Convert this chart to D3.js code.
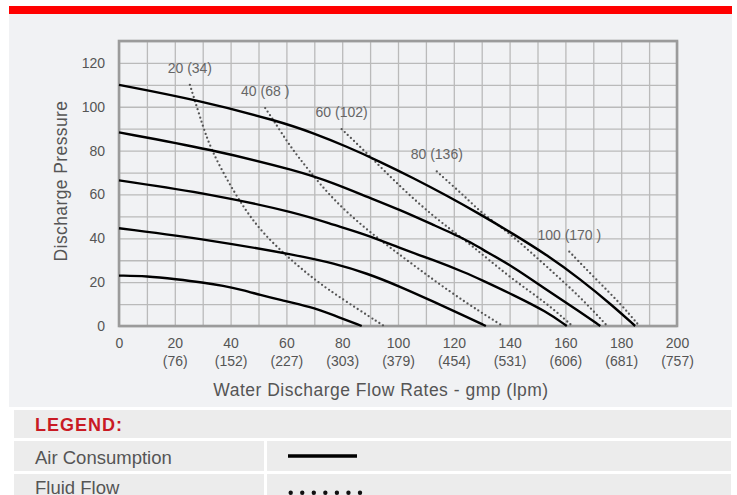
<!DOCTYPE html>
<meta charset="utf-8">
<style>
body { margin: 0; background: #fff; }
svg text { font-family: "Liberation Sans", Arial, sans-serif; }
.grid line { stroke: #bababa; stroke-width: 1.3px; }
.grid path { display: none; }
.axis path, .axis line { display: none; }
.axis text { fill: #555; font-size: 14px; }
.air { fill: none; stroke: #000; stroke-width: 2.4px; }
.fluid { fill: none; stroke: #555; stroke-width: 2.3px; stroke-dasharray: 0 4.3; stroke-linecap: round; }
.flabel { fill: #666; font-size: 14px; text-anchor: middle; }
</style>
<svg width="737" height="495"></svg>
<script src="https://d3js.org/d3.v7.min.js"></script>
<script>

// tick labels
var gpmTicks = [0, 20, 40, 60, 80, 100, 120, 140, 160, 180, 200];
var lpmTicks = ["", "(76)", "(152)", "(227)", "(303)", "(379)", "(454)", "(531)", "(606)", "(681)", "(757)"];
var psiTicks = [0, 20, 40, 60, 80, 100, 120];

// air consumption curves  [gpm, pressure]
var air110 = [[0,110],[27.8,103.2],[57.7,93.3],[69.6,88],[81.6,81.9],[93.5,75],[105.5,67.5],[117.5,59.5],[129.4,51],[141.3,42],[153.3,32.5],[165.2,21.5],[177.2,9],[185,0]];
var air88  = [[0,88.3],[32.6,80.7],[64.9,70.5],[76.8,65.2],[88.8,59],[100.7,53],[112.7,46.1],[124.6,39.3],[129.4,35.5],[141.3,27.1],[153.3,16.4],[165.2,6.5],[172.5,0]];
var air66  = [[0,66.4],[32.6,60.3],[64.9,51.3],[76.8,46.1],[88.8,41.6],[100.7,35.5],[112.7,30.1],[124.6,24.1],[129.4,21.3],[141.3,14.2],[153.3,6.5],[160.5,0]];
var air44  = [[0,44.6],[32.6,39.3],[64.9,32],[76.8,28.6],[88.8,24.1],[100.7,18],[112.7,11.1],[124.6,4.2],[131.5,0]];
var air22  = [[0,23],[9.9,22.8],[20.6,21.3],[30.1,19.8],[37.3,18.4],[44.4,16.4],[50.5,14.2],[57.7,11.9],[68.5,8.8],[76.8,5],[87,0]];

// fluid flow curves
var fluid20  = [[25.4,110],[29,95.5],[32.6,81.1],[41,61.3],[49.3,45.3],[58.9,33.2],[67.9,23.3],[76.8,14.9],[95,0]];
var fluid40  = [[52.4,99.4],[55.3,94],[61.3,81.9],[67.9,71.2],[76.8,57.5],[88.8,43.8],[100.7,32.4],[112.7,21],[124.6,10.4],[134.2,2.7],[137.5,0]];
var fluid60  = [[79.8,89.8],[88.8,78.9],[100.7,63.6],[112.7,49.9],[124.6,38.5],[129.4,33.5],[141.3,21],[153.3,10.4],[162.5,0]];
var fluid80  = [[113.9,70.5],[124.6,58.3],[129.4,52.2],[136.6,45.3],[141.3,40.8],[153.3,27.1],[165.2,13.4],[175,0]];
var fluid100 = [[161.4,33.9],[171.2,21],[179.6,10.4],[186.5,0]];
var fluidLabels = ["20 (34)", "40 (68 )", "60 (102)", "80 (136)", "100 (170 )"];

var airSeries = [air110, air88, air66, air44, air22];
var fluidSeries = [fluid20, fluid40, fluid60, fluid80, fluid100];

var svg = d3.select("svg");

// page frame
svg.append("rect").attr("x", 9).attr("y", 14).attr("width", 723).attr("height", 393).attr("fill", "#f1f2f4");
svg.append("rect").attr("x", 9).attr("y", 6).attr("width", 723).attr("height", 8).attr("fill", "#ff0000");

var margin = {top: 41, left: 119},
    w = 558, h = 285;

var x = d3.scaleLinear().domain([0, 200]).range([0, w]),
    y = d3.scaleLinear().domain([0, 130]).range([h, 0]);

var g = svg.append("g").attr("transform", "translate(" + margin.left + "," + margin.top + ")");

// grid every 10 units
g.append("g").attr("class", "grid")
    .attr("transform", "translate(0," + h + ")")
    .call(d3.axisBottom(x).tickValues(d3.range(0, 201, 10)).tickSize(-h).tickFormat(""));
g.append("g").attr("class", "grid")
    .call(d3.axisLeft(y).tickValues(d3.range(0, 131, 10)).tickSize(-w).tickFormat(""));

g.append("rect")
    .attr("width", w).attr("height", h)
    .attr("fill", "none").attr("stroke", "#9b9b9b").attr("stroke-width", 2.6);

// axes
var xAxis = g.append("g").attr("class", "axis")
    .attr("transform", "translate(0," + h + ")")
    .call(d3.axisBottom(x).tickValues(gpmTicks).tickSize(0).tickPadding(12));
xAxis.selectAll("text").each(function(d, i) {
  d3.select(this).append("tspan").attr("x", 0).attr("dy", "1.3em").text(lpmTicks[i]);
});

g.append("g").attr("class", "axis")
    .call(d3.axisLeft(y).tickValues(psiTicks).tickSize(0).tickPadding(14));

// axis titles
svg.append("text")
    .attr("x", 381).attr("y", 396)
    .attr("text-anchor", "middle")
    .attr("fill", "#555")
    .style("font-size", "17.5px")
    .style("letter-spacing", "0.5px")
    .text("Water Discharge Flow Rates - gmp (lpm)");

svg.append("text")
    .attr("transform", "translate(67,181) rotate(-90)")
    .attr("text-anchor", "middle")
    .attr("fill", "#555")
    .style("font-size", "17.5px")
    .style("letter-spacing", "0.4px")
    .text("Discharge Pressure");

var line = d3.line()
    .curve(d3.curveBasis)
    .x(function(d) { return x(d[0]); })
    .y(function(d) { return y(d[1]); });

g.selectAll(".fluid")
    .data(fluidSeries)
    .enter().append("path")
    .attr("class", "fluid")
    .attr("d", line);

g.selectAll(".air")
    .data(airSeries)
    .enter().append("path")
    .attr("class", "air")
    .attr("d", line);

// fluid labels just above the start of each dotted curve
g.selectAll(".flabel")
    .data(fluidSeries)
    .enter().append("text")
    .attr("class", "flabel")
    .attr("x", function(d) { return x(d[0][0]); })
    .attr("y", function(d) { return y(d[0][1]) - 12; })
    .text(function(d, i) { return fluidLabels[i]; });

// legend table
var lg = svg.append("g");
lg.append("rect").attr("x", 14).attr("y", 410).attr("width", 717).attr("height", 28).attr("fill", "#ececec");
lg.append("rect").attr("x", 14).attr("y", 441).attr("width", 250).attr("height", 30).attr("fill", "#ececec");
lg.append("rect").attr("x", 267).attr("y", 441).attr("width", 464).attr("height", 30).attr("fill", "#ececec");
lg.append("rect").attr("x", 14).attr("y", 474).attr("width", 250).attr("height", 30).attr("fill", "#ececec");
lg.append("rect").attr("x", 267).attr("y", 474).attr("width", 464).attr("height", 30).attr("fill", "#ececec");

lg.append("text")
    .attr("x", 35).attr("y", 431)
    .attr("fill", "#c91a24")
    .style("font-size", "18px")
    .style("font-weight", "bold")
    .style("letter-spacing", "1px")
    .text("LEGEND:");
lg.append("text")
    .attr("x", 35).attr("y", 464)
    .attr("fill", "#555")
    .style("font-size", "18.5px")
    .text("Air Consumption");
lg.append("text")
    .attr("x", 35).attr("y", 494)
    .attr("fill", "#555")
    .style("font-size", "18.5px")
    .text("Fluid Flow");

lg.append("line")
    .attr("x1", 288).attr("x2", 357).attr("y1", 456).attr("y2", 456)
    .attr("stroke", "#000").attr("stroke-width", 3.6);
lg.append("line")
    .attr("x1", 290.7).attr("x2", 361).attr("y1", 492.7).attr("y2", 492.7)
    .attr("stroke", "#111").attr("stroke-width", 4.4)
    .attr("stroke-linecap", "round")
    .attr("stroke-dasharray", "0 11.55");

</script>
